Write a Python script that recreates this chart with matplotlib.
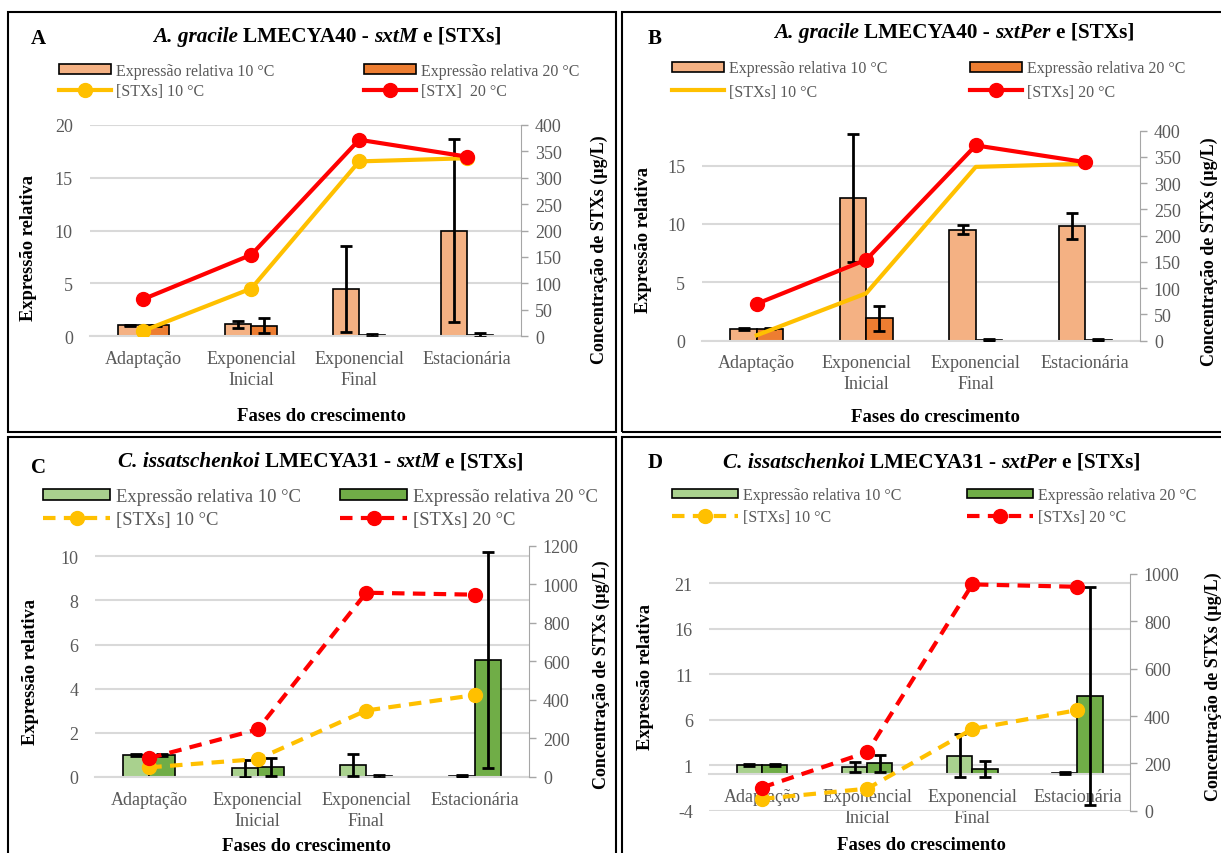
import matplotlib
matplotlib.use("Agg")
import matplotlib.pyplot as plt
from matplotlib.patches import Rectangle, Patch
from matplotlib.lines import Line2D

plt.rcParams['font.family'] = ['Liberation Serif', 'DejaVu Serif']
plt.rcParams['axes.unicode_minus'] = False

# ---- data ----
fases = ["Adaptação", "Exponencial\nInicial", "Exponencial\nFinal", "Estacionária"]

# A. gracile LMECYA40
ag_sxtM_10 = [1.0, 1.1, 4.45, 10.0]
ag_sxtM_10_err = [0.05, 0.33, 4.05, 8.7]
ag_sxtM_20 = [1.0, 0.98, 0.05, 0.1]
ag_sxtM_20_err = [0.05, 0.7, 0.1, 0.2]
ag_sxtPer_10 = [1.0, 12.2, 9.5, 9.8]
ag_sxtPer_10_err = [0.08, 5.5, 0.4, 1.1]
ag_sxtPer_20 = [1.0, 1.9, 0.05, 0.05]
ag_sxtPer_20_err = [0.05, 1.1, 0.08, 0.05]
ag_stx_10 = [10, 90, 331, 337]
ag_stx_20 = [70, 154, 372, 340]

# C. issatschenkoi LMECYA31
ci_sxtM_10 = [1.0, 0.4, 0.55, 0.03]
ci_sxtM_10_err = [0.04, 0.38, 0.5, 0.05]
ci_sxtM_20 = [1.0, 0.45, 0.03, 5.3]
ci_sxtM_20_err = [0.04, 0.4, 0.06, 4.9]
ci_sxtPer_10 = [1.0, 0.8, 2.05, 0.1]
ci_sxtPer_10_err = [0.1, 0.55, 2.4, 0.1]
ci_sxtPer_20 = [1.0, 1.2, 0.6, 8.6]
ci_sxtPer_20_err = [0.1, 0.95, 0.85, 12.0]
ci_stx_10 = [50, 93, 345, 425]
ci_stx_20 = [98, 247, 956, 946]

W, H = 1221, 854
fig = plt.figure(figsize=(W / 100, H / 100), dpi=100)
GREY = '#595959'


def fy(py):
    return 1 - py / H


def rich_title(cx, cy, parts, size):
    r = fig.canvas.get_renderer()
    arts = [fig.text(0, fy(cy), s, fontsize=size, fontweight='bold', fontstyle=st,
                     ha='left', va='center') for s, st in parts]
    widths = [t.get_window_extent(r).width for t in arts]
    gap = 0.25 * size * 100 / 72
    x = cx - (sum(widths) + gap * (len(arts) - 1)) / 2
    for t, w in zip(arts, widths):
        t.set_x(x / W)
        x += w + gap


def panel(p):
    x0, y0, x1, y1 = p['box']
    fig.add_artist(Rectangle((x0 / W, fy(y1)), (x1 - x0) / W, (y1 - y0) / H,
                             transform=fig.transFigure, fill=False, ec='black', lw=1.5))
    l, t, r, b = p['ax']
    ax = fig.add_axes([l / W, fy(b), (r - l) / W, (b - t) / H])
    # category axis sits on the zero line (matters for panel D)
    ax.spines['bottom'].set_position(('data', 0))
    ax.spines['bottom'].set_color('#d9d9d9')
    ax.spines['bottom'].set_linewidth(1.5)
    for s in ['left', 'right', 'top']:
        ax.spines[s].set_visible(False)

    xs = list(range(len(fases)))
    w = 0.24
    x10 = [x - w / 2 for x in xs]
    x20 = [x + w / 2 for x in xs]
    ax.bar(x10, p['b10'], w, color=p['c10'], edgecolor='black', lw=1.2, zorder=2)
    ax.bar(x20, p['b20'], w, color=p['c20'], edgecolor='black', lw=1.2, zorder=2)
    ax.errorbar(x10, p['b10'], yerr=p['e10'], fmt='none', ecolor='black',
                elinewidth=2, capsize=4, capthick=2, zorder=3)
    ax.errorbar(x20, p['b20'], yerr=p['e20'], fmt='none', ecolor='black',
                elinewidth=2, capsize=4, capthick=2, zorder=3)
    ax.set_xlim(-0.5, len(fases) - 0.5)
    ax.set_ylim(*p['ylim'])
    ax.set_yticks(p['yticks'])
    ax.set_xticks(xs)
    ax.set_xticklabels(fases, fontsize=13, color=GREY, linespacing=1.3)
    ax.tick_params(axis='x', length=0, pad=10)
    ax.tick_params(axis='y', length=0, pad=12, labelsize=13, labelcolor=GREY)
    ax.yaxis.grid(True, color='#d9d9d9', lw=1.5)
    ax.set_axisbelow(True)
    ax.patch.set_alpha(0)

    ax2 = ax.twinx()
    ax2.set_ylim(*p['y2lim'])
    ax2.set_yticks(p['y2ticks'])
    for s in ['left', 'bottom', 'top']:
        ax2.spines[s].set_visible(False)
    ax2.spines['right'].set_color('#a6a6a6')
    ax2.tick_params(axis='y', direction='out', length=5, width=1, color='#a6a6a6',
                    labelcolor=GREY, labelsize=13, pad=5)
    ls = (0, (3, 2)) if p['dashed'] else '-'
    ax2.plot(xs, p['s10'], color='#FFC000', lw=3, ls=ls,
             marker='o' if p['mk10'] else None, ms=10, zorder=4)
    ax2.plot(xs, p['s20'], color='#FF0000', lw=3, ls=ls, marker='o', ms=10, zorder=5)

    # texts
    fig.text(p['letter'][0] / W, fy(p['letter'][1]), p['name'], fontsize=15,
             fontweight='bold', ha='center', va='center')
    rich_title(p['title_xy'][0], p['title_xy'][1], p['title'], 15.3)
    fig.text(p['yl'][0] / W, fy(p['yl'][1]), 'Expressão relativa', rotation=90,
             fontsize=13.3, fontweight='bold', ha='center', va='center')
    fig.text(p['yr'][0] / W, fy(p['yr'][1]), 'Concentração de STXs (µg/L)', rotation=90,
             fontsize=13, fontweight='bold', ha='center', va='center')
    fig.text(p['xl'][0] / W, fy(p['xl'][1]), 'Fases do crescimento',
             fontsize=13.5, fontweight='bold', ha='center', va='center')

    # legend: two columns placed separately
    fs = p['lfs']
    hl = p['hlen'] / (fs * 100 / 72)
    h_line10 = Line2D([], [], color='#FFC000', lw=3, ls=ls,
                      marker='o' if p['mk10'] else None, ms=10)
    h_line20 = Line2D([], [], color='#FF0000', lw=3, ls=ls, marker='o', ms=10)
    cols = [([Patch(facecolor=p['c10'], edgecolor='black', lw=1.2), h_line10],
             [p['labels'][0], p['labels'][2]]),
            ([Patch(facecolor=p['c20'], edgecolor='black', lw=1.2), h_line20],
             [p['labels'][1], p['labels'][3]])]
    for (hs, labs), lx in zip(cols, p['leg_x']):
        fig.legend(hs, labs, loc='center left', bbox_to_anchor=(lx / W, fy(p['leg_y'])),
                   frameon=False, borderpad=0, borderaxespad=0, fontsize=fs,
                   handlelength=hl, handleheight=0.55, handletextpad=0.3,
                   labelspacing=p['lsp'], labelcolor=GREY)


lab_a = ["Expressão relativa 10 °C", "Expressão relativa 20 °C", "[STXs] 10 °C", "[STX]  20 °C"]
lab_b = ["Expressão relativa 10 °C", "Expressão relativa 20 °C", "[STXs] 10 °C", "[STXs] 20 °C"]

panels = [
    dict(name='A', box=(8, 13, 616, 433), ax=(89.5, 126, 521, 337),
         ylim=(0, 20), yticks=range(0, 21, 5), y2lim=(0, 400), y2ticks=range(0, 401, 50),
         b10=ag_sxtM_10, e10=ag_sxtM_10_err, b20=ag_sxtM_20, e20=ag_sxtM_20_err,
         s10=ag_stx_10, s20=ag_stx_20, c10='#F4B183', c20='#ED7D31', dashed=False, mk10=True,
         letter=(38, 39), title_xy=(327, 37),
         title=[("A. gracile", 'italic'), ("LMECYA40 -", 'normal'), ("sxtM", 'italic'), ("e [STXs]", 'normal')],
         yl=(29, 248), yr=(599, 250), xl=(321, 417),
         labels=lab_a, lfs=11.5, hlen=52, leg_x=(59, 364), leg_y=82, lsp=0.3),
    dict(name='B', box=(622, 13, 1226, 433), ax=(702, 131.7, 1140, 341.5),
         ylim=(0, 18), yticks=range(0, 16, 5), y2lim=(0, 400), y2ticks=range(0, 401, 50),
         b10=ag_sxtPer_10, e10=ag_sxtPer_10_err, b20=ag_sxtPer_20, e20=ag_sxtPer_20_err,
         s10=ag_stx_10, s20=ag_stx_20, c10='#F4B183', c20='#ED7D31', dashed=False, mk10=False,
         letter=(655, 39), title_xy=(954, 33),
         title=[("A. gracile", 'italic'), ("LMECYA40 -", 'normal'), ("sxtPer", 'italic'), ("e [STXs]", 'normal')],
         yl=(643, 240), yr=(1209, 252), xl=(935, 418),
         labels=lab_b, lfs=11.5, hlen=52, leg_x=(672, 970), leg_y=81, lsp=0.45),
    dict(name='C', box=(8, 438, 616, 860), ax=(95, 546.7, 529, 778),
         ylim=(0, 10.48), yticks=range(0, 11, 2), y2lim=(0, 1200), y2ticks=range(0, 1201, 200),
         b10=ci_sxtM_10, e10=ci_sxtM_10_err, b20=ci_sxtM_20, e20=ci_sxtM_20_err,
         s10=ci_stx_10, s20=ci_stx_20, c10='#A9D18E', c20='#70AD47', dashed=True, mk10=True,
         letter=(38, 468), title_xy=(321, 462),
         title=[("C. issatschenkoi", 'italic'), ("LMECYA31 -", 'normal'), ("sxtM", 'italic'), ("e [STXs]", 'normal')],
         yl=(31, 672), yr=(601, 675), xl=(306, 847),
         labels=lab_b, lfs=13.4, hlen=67, leg_x=(43, 340), leg_y=509, lsp=0.3),
    dict(name='D', box=(622, 438, 1226, 860), ax=(709.5, 575, 1130, 811.7),
         ylim=(-4, 22), yticks=range(-4, 22, 5), y2lim=(0, 1000), y2ticks=range(0, 1001, 200),
         b10=ci_sxtPer_10, e10=ci_sxtPer_10_err, b20=ci_sxtPer_20, e20=ci_sxtPer_20_err,
         s10=ci_stx_10, s20=ci_stx_20, c10='#A9D18E', c20='#70AD47', dashed=True, mk10=True,
         letter=(655, 463), title_xy=(932, 463),
         title=[("C. issatschenkoi", 'italic'), ("LMECYA31 -", 'normal'), ("sxtPer", 'italic'), ("e [STXs]", 'normal')],
         yl=(646, 677), yr=(1213, 687), xl=(921, 846),
         labels=lab_b, lfs=11.5, hlen=66, leg_x=(672, 967), leg_y=507, lsp=0.35),
]

for p in panels:
    panel(p)

fig.savefig('out.png', dpi=100)
